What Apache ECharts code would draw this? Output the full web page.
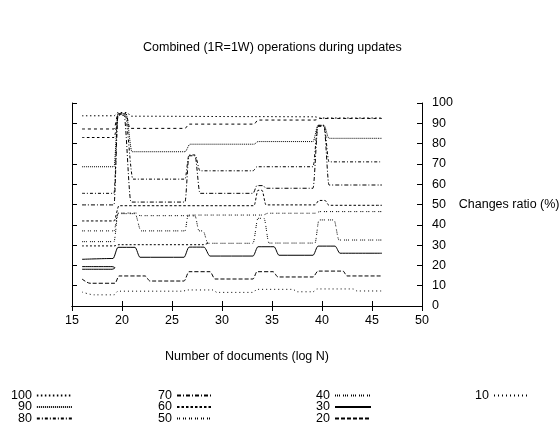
<!DOCTYPE html>
<html>
<head>
<meta charset="utf-8">
<script src="https://cdn.jsdelivr.net/npm/echarts@6/dist/echarts.min.js"></script>
<style>
html,body{margin:0;padding:0;background:#fff;}
#chart{width:559px;height:424px;}
</style>
</head>
<body>
<div id="chart"></div>
<script>
// ---- data (x = log N, y = changes ratio %) ----
var xTicks = [15, 20, 25, 30, 35, 40, 45, 50];
var yTicks = [0, 10, 20, 30, 40, 50, 60, 70, 80, 90, 100];
var seriesNames = ['100', '90', '80', '70', '60', '50', '40', '30', '20', '10'];

var s100 = [[16,93.7],[19.2,93.7],[19.6,95.3],[20.5,95.3],[20.9,93.5],[33.3,93.3],[39.3,93.2],[39.8,92.6],[46,92.6]];
var s90  = [[16,68.6],[19.2,68.6],[19.6,94.8],[20.4,94.8],[21,76],[26.3,76],[26.8,79.7],[33.2,79.7],[33.6,81],[39.1,81],[39.6,89],[40.2,89],[40.7,82.6],[46,82.6]];
var s80  = [[16,55.5],[19.2,55.5],[19.6,94.5],[20.3,94.5],[21.1,62.5],[26.3,62.5],[26.7,74.4],[27.3,74.4],[27.8,66.6],[33.1,66.6],[33.5,68.6],[39.1,68.6],[39.6,89],[40.2,89],[40.7,71],[46,71]];
var s70  = [[16,49.8],[19.2,49.8],[19.6,94],[20.2,94],[20.9,51.2],[26.3,51.2],[26.7,74],[27.3,74],[27.8,55.5],[33.1,55.5],[33.5,59.3],[34.1,59.3],[34.4,58],[39.1,58],[39.6,88.5],[40.2,88.5],[40.7,59.6],[46,59.6]];
var s60  = [[16,41.9],[19.2,41.9],[19.7,49.4],[33.2,49.4],[33.6,57],[34,57],[34.4,49.8],[39.3,49.8],[39.7,52],[40.3,52],[40.7,49.6],[46,49.6]];
var s50  = [[16,37],[19.2,37],[19.6,45.8],[21.4,45.8],[21.8,44.5],[26.3,44.5],[26.8,44.8],[34.1,44.8],[34.6,45.7],[39.3,45.7],[39.8,46.5],[46,46.5]];
var s40  = [[16,31.7],[19.2,31.7],[19.6,45.5],[21.3,45.5],[21.9,37],[26.3,37],[26.6,44.4],[27.3,44.4],[27.7,37],[28.1,37],[28.6,30.9],[33.1,30.9],[33.6,43.2],[34.2,43.2],[34.7,31],[39.3,31],[39.7,42.4],[41.2,42.4],[41.7,32.5],[46,32.5]];
var s30  = [[16,23],[19.1,23.4],[19.6,28.9],[21.3,28.9],[21.8,24],[26.2,24],[26.7,29],[28.2,29],[28.8,24.6],[33.1,24.6],[33.6,29.2],[35.2,29.2],[35.7,25],[39.1,25],[39.6,29.5],[41.3,29.5],[41.8,26],[46,26]];
var s20  = [[16,13.3],[16.8,11.2],[19.3,11.2],[19.7,14.8],[22.3,14.8],[22.8,12.3],[26.2,12.3],[26.7,16.9],[28.8,16.9],[29.3,13.3],[33.1,13.3],[33.5,16.9],[35.1,16.9],[35.6,14.3],[39.1,14.3],[39.6,17.2],[42.1,17.2],[42.5,14.8],[46,14.8]];
var s10  = [[16,6.9],[17.2,5.5],[19.2,5.5],[19.6,7.3],[26.1,7.3],[26.5,7.9],[29.1,7.9],[29.5,6.7],[33.1,6.7],[33.5,8.2],[37.1,8.2],[37.5,7],[39.1,7],[39.5,8.4],[43.1,8.4],[43.5,7.4],[46,7.4]];
// extra traces drawn in the original
var extraUpper = [[16,87.2],[19.2,87.2],[19.6,94.6],[20.4,94.6],[20.8,87.5],[26.3,87.5],[26.7,89.6],[33.2,89.6],[33.6,91.6],[39.3,91.6],[39.8,92.4],[46,92.4]];
var extraShort = [[16,83],[19.2,83],[19.6,94]];
var extraLow   = [[16,29.6],[19.2,29.6],[19.7,30.2],[28.1,30.2],[28.6,30.9]];
var extraLoop  = [[16,19.4],[19.0,19.4],[19.3,18.8],[19.0,18.1],[16,18.1]];

var dashes = {
  '100': [1.5, 2.5], '90': [1, 1], '80': [3, 2, 1, 2], '70': [4, 2, 1, 2],
  '60': [2.5, 2], '50': [1, 1, 1, 3], '40': [1, 1, 1, 1, 1, 3], '30': 'solid',
  '20': [4, 2], '10': [1, 3]
};
var mainData = [s100, s90, s80, s70, s60, s50, s40, s30, s20, s10];

var FONT = 'Liberation Sans, Arial, Helvetica, sans-serif';
var FS = 12.5;

function mk(name, data, dash, mono) {
  return {
    name: name, type: 'line', data: data, symbol: 'none', showSymbol: false,
    xAxisIndex: 0, yAxisIndex: 0, silent: true,
    smooth: 0.3, smoothMonotone: mono ? 'x' : undefined,
    itemStyle: { color: '#000' },
    lineStyle: { color: '#000', width: 1, type: dash }
  };
}
var series = [];
for (var i = 0; i < seriesNames.length; i++) {
  series.push(mk(seriesNames[i], mainData[i], dashes[seriesNames[i]], true));
}
series.push(mk('extraUpper', extraUpper, [3, 3], true));
series.push(mk('extraShort', extraShort, [2.5, 2.5], true));
series.push(mk('extraLow', extraLow, [2, 2], true));
series.push(mk('extraLoop', extraLoop, 'solid', false));

function legendCol(names, left) {
  return {
    data: names, orient: 'vertical', align: 'right', left: left, top: 389, padding: 0,
    width: 80, height: 60,
    itemWidth: 36, itemHeight: 8, itemGap: -1.5, selectedMode: false,
    itemStyle: { opacity: 0 },
    textStyle: { fontFamily: FONT, fontSize: FS, color: '#000', width: 20, align: 'right', lineHeight: 11 }
  };
}

var axisText = { fontFamily: FONT, fontSize: FS, color: '#000' };
var option = {
  animation: false,
  backgroundColor: '#fff',
  title: {
    text: 'Combined (1R=1W) operations during updates',
    left: 143, top: 41, padding: 0,
    textStyle: { fontFamily: FONT, fontSize: FS, fontWeight: 'normal', color: '#000' }
  },
  grid: { left: 72, right: 137, top: 103, bottom: 118, containLabel: false, outerBoundsMode: 'none' },
  legend: [
    legendCol(['100', '90', '80'], 11),
    legendCol(['70', '60', '50'], 152),
    legendCol(['40', '30', '20'], 310),
    legendCol(['10'], 469)
  ],
  xAxis: [
    {
      type: 'value', position: 'bottom', min: 15, max: 50, interval: 5,
      name: 'Number of documents (log N)', nameLocation: 'middle', nameGap: 44,
      nameTextStyle: axisText,
      axisLine: { show: true, lineStyle: { color: '#000', width: 1 } },
      axisTick: { show: true, inside: true, length: 5, lineStyle: { color: '#000' } },
      axisLabel: Object.assign({ margin: 8, formatter: function (v) { return xTicks.indexOf(v) >= 0 ? String(v) : ''; } }, axisText),
      splitLine: { show: false }
    },
    {
      type: 'value', position: 'top', min: 15, max: 50, interval: 5,
      axisLine: { show: true, lineStyle: { color: '#000', width: 1 } },
      axisTick: { show: true, inside: true, length: 5, lineStyle: { color: '#000' } },
      axisLabel: { show: false }, splitLine: { show: false }
    }
  ],
  yAxis: [
    {
      type: 'value', position: 'right', min: 0, max: 100, interval: 10,
      name: 'Changes ratio (%)', nameLocation: 'middle', nameGap: 31, nameRotate: 0,
      nameTextStyle: Object.assign({ align: 'left' }, axisText),
      axisLine: { show: true, lineStyle: { color: '#000', width: 1 } },
      axisTick: { show: true, inside: true, length: 5, lineStyle: { color: '#000' } },
      axisLabel: Object.assign({ margin: 10, formatter: function (v) { return yTicks.indexOf(v) >= 0 ? String(v) : ''; } }, axisText),
      splitLine: { show: false }
    },
    {
      type: 'value', position: 'left', min: 0, max: 100, interval: 10,
      axisLine: { show: true, lineStyle: { color: '#000', width: 1 } },
      axisTick: { show: true, inside: true, length: 5, lineStyle: { color: '#000' } },
      axisLabel: { show: false }, splitLine: { show: false }
    }
  ],
  series: series
};
var chart = echarts.init(document.getElementById('chart'), null, { renderer: 'canvas' });
chart.setOption(option);
</script>
</body>
</html>
